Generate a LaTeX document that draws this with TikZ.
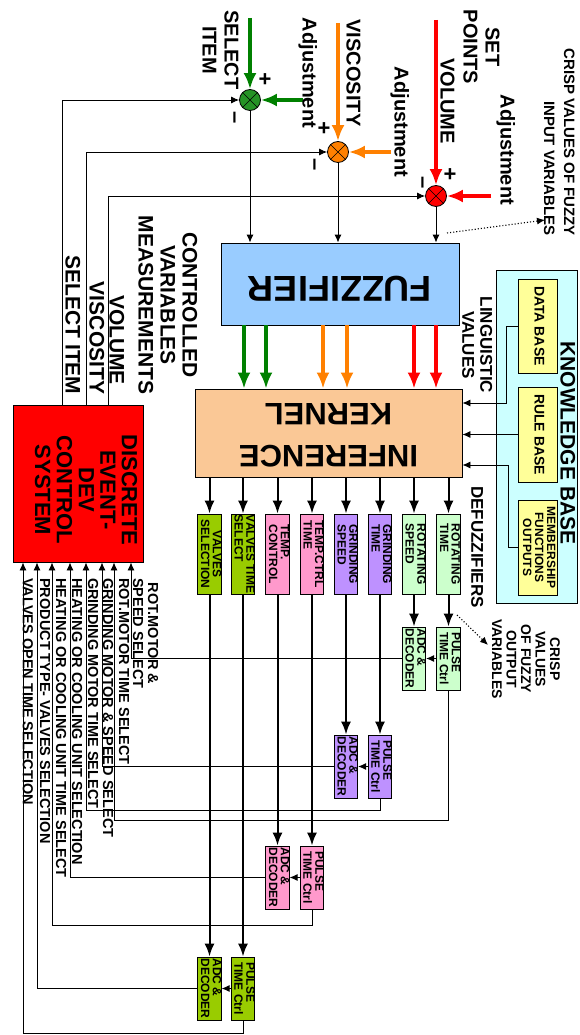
\documentclass[tikz,border=0pt]{standalone}
\usepackage{fontspec}
\setmainfont{Liberation Sans}
\usepackage{graphicx}
\usetikzlibrary{arrows.meta}
\definecolor{fuzzblue}{RGB}{153,204,255}
\definecolor{infpeach}{RGB}{250,200,150}
\definecolor{kbcyan}{RGB}{204,255,255}
\definecolor{kbyellow}{RGB}{255,255,153}
\definecolor{sigred}{RGB}{255,0,0}
\definecolor{sigorange}{RGB}{255,128,0}
\definecolor{siggreen}{RGB}{0,128,0}
\definecolor{valvegreen}{RGB}{153,204,0}
\definecolor{temppink}{RGB}{255,153,204}
\definecolor{grindviolet}{RGB}{190,145,255}
\definecolor{rotgreen}{RGB}{204,255,204}
\newcommand\vlab[2][c]{\rotatebox{-90}{\begin{tabular}{@{}#1@{}}#2\end{tabular}}}
\newcommand\fliptext[1]{\rotatebox{180}{\begin{tabular}{@{}c@{}}#1\end{tabular}}}
\tikzset{
  lab/.style={inner sep=0pt, font=\bfseries\fontsize{20}{22}\selectfont},
  sumnode/.style={circle, draw, thick, minimum size=21pt, inner sep=0pt},
  fb/.style={line width=0.9pt, -{Latex[length=8pt,width=7pt]}},
  sig/.style={line width=3.6pt, -{Latex[length=16pt,width=13pt]}},
  bus/.style={line width=2pt, -{Latex[length=13pt,width=10pt]}},
  dotarr/.style={dotted, line width=1.1pt, -{Latex[length=8pt,width=7pt]}},
  blk/.style={draw, line width=0.9pt, inner sep=0pt},
  unit/.style={blk, minimum width=22pt, minimum height=80pt, font=\bfseries\fontsize{12}{11}\selectfont},
  conv/.style={blk, minimum width=22pt, minimum height=63pt, font=\bfseries\fontsize{12}{11}\selectfont},
  sel/.style={inner sep=0pt, anchor=north west, font=\bfseries\fontsize{14.5}{14}\selectfont}
}
\begin{document}
\begin{tikzpicture}[x=1pt,y=-1pt]
\useasboundingbox (0,0) rectangle (579,1035);

\node[sumnode, fill=siggreen!85!white] (jg) at (250,100) {};
\node[sumnode, fill=sigorange] (jo) at (338,152) {};
\node[sumnode, fill=sigred] (jr) at (436,196) {};
\foreach \j in {jg,jo,jr}
  \draw (\j.north west) -- (\j.south east) (\j.north east) -- (\j.south west);

\coordinate (gitem) at (250,18);
\coordinate (gadj) at (303,100);
\coordinate (oset) at (338,23);
\coordinate (oadj) at (391,152);
\coordinate (rset) at (436,20);
\coordinate (radj) at (491,196);
\draw[sig, siggreen] (gitem) -- (jg);
\draw[sig, siggreen] (gadj) -- (jg);
\draw[sig, sigorange] (oset) -- (jo);
\draw[sig, sigorange] (oadj) -- (jo);
\draw[sig, sigred] (rset) -- (jr);
\draw[sig, sigred] (radj) -- (jr);

\node[lab] (lsel) at (218,50) {\vlab{SELECT\\ITEM}};
\node[lab] (lgadj) at (307,73) {\vlab{Adjustment}};
\node[lab] (lvis) at (351,73) {\vlab{VISCOSITY}};
\node[lab] (loadj) at (399,122) {\vlab{Adjustment}};
\node[lab] (lset) at (479,47) {\vlab{SET\\POINTS}};
\node[lab] (lvol) at (445,101) {\vlab{VOLUME}};
\node[lab] (lradj) at (505,150) {\vlab{Adjustment}};
\node[lab, font=\bfseries\fontsize{22}{22}\selectfont] (pg) at (265,80) {+};
\node[lab, font=\bfseries\fontsize{22}{22}\selectfont] (mg) at (233,118) {\vlab{--}};
\node[lab, font=\bfseries\fontsize{22}{22}\selectfont] (po) at (324,129) {+};
\node[lab, font=\bfseries\fontsize{22}{22}\selectfont] (mo) at (313,165) {\vlab{--}};
\node[lab, font=\bfseries\fontsize{22}{22}\selectfont] (pr) at (450,175) {+};
\node[lab, font=\bfseries\fontsize{22}{22}\selectfont] (mr) at (421,183) {\vlab{--}};
\node[lab, anchor=south, font=\bfseries\fontsize{15}{20}\selectfont] (crispin) at (558,236) {\vlab[r]{CRISP VALUES OF FUZZY\\INPUT VARIABLES}};

\node[blk, fill=fuzzblue, minimum width=238pt, minimum height=82pt, font=\bfseries\fontsize{36}{40}\selectfont] (fuzz) at (340,284) {\fliptext{FUZZIFIER}};
\node[blk, fill=infpeach, minimum width=267pt, minimum height=88pt, font=\bfseries\fontsize{31}{42}\selectfont] (inf) at (328.5,433) {\fliptext{INFERENCE\\KERNEL}};

\coordinate (cin) at (447,233);
\coordinate (cintip) at (545,220);
\draw[dotarr] (cin) -- (cintip);

\foreach \j in {jg,jo,jr}
  \draw[fb] (\j) -- (\j |- fuzz.north);
\foreach \x/\c in {244/siggreen,266/siggreen,323/sigorange,347/sigorange,414/sigred,436/sigred}
  \draw[sig, \c] (fuzz.south -| \x,0) -- (inf.north -| \x,0);

\node[blk, fill=kbcyan, minimum width=81pt, minimum height=333pt] (kb) at (536.5,436.5) {};
\node[lab, font=\bfseries\fontsize{21}{22}\selectfont] (kbt) at (565,443) {\vlab{KNOWLEDGE BASE}};
\node[blk, fill=kbyellow, minimum width=39pt, minimum height=94pt, font=\bfseries\fontsize{14}{15}\selectfont] (db) at (537.5,326) {\vlab{DATA BASE}};
\node[blk, fill=kbyellow, minimum width=39pt, minimum height=95pt, font=\bfseries\fontsize{14}{15}\selectfont] (rb) at (537.5,434.5) {\vlab{RULE BASE}};
\node[blk, fill=kbyellow, minimum width=39pt, minimum height=95pt, font=\bfseries\fontsize{12}{12}\selectfont] (mf) at (537.5,547.5) {\vlab{MEMBERSHIP\\FUNCTIONS\\OUTPUTS}};
\draw[fb] (db.west) -- ++(-11,0) |- ([yshift=30pt]inf.east);
\draw[fb] (rb.west) -- (inf.east |- rb.west);
\draw[fb] (mf.west) -- ++(-9,0) |- ([yshift=-32pt]inf.east);
\node[lab, font=\bfseries\fontsize{17}{18}\selectfont] (ling) at (475,345) {\vlab{LINGUISTIC\\VALUES}};
\node[lab, font=\bfseries\fontsize{17}{18}\selectfont] (defz) at (475,547) {\vlab{DEFUZZIFIERS}};

\node[blk, fill=sigred, minimum width=130pt, minimum height=157pt] (dev) at (78,483.5) {};
\node[lab, font=\bfseries\fontsize{22}{21.5}\selectfont] (devtxt) at (83,490) {\vlab{DISCRETE\\EVENT-\\DEV\\CONTROL\\SYSTEM}};
\draw[fb] (dev.north -| 62,0) |- (jg.west);
\draw[fb] (dev.north -| 86,0) |- (jo.west);
\draw[fb] (dev.north -| 108,0) |- (jr.west);
\node[lab, font=\bfseries\fontsize{21}{22}\selectfont] (msel) at (70,325) {\vlab{SELECT ITEM}};
\node[lab, font=\bfseries\fontsize{21}{22}\selectfont] (mvis) at (94,338) {\vlab{VISCOSITY}};
\node[lab, font=\bfseries\fontsize{21}{22}\selectfont] (mvol) at (114,340) {\vlab{VOLUME}};
\node[lab, font=\bfseries\fontsize{21}{22}\selectfont] (ctrl) at (165,305) {\vlab{CONTROLLED\\VARIABLES\\MEASUREMENTS}};

\node[unit, fill=valvegreen] (vs) at (209.5,554) {\vlab{VALVES\\SELECTION}};
\node[unit, fill=valvegreen] (vt) at (243,554) {\vlab[l]{VALVES TIME\\SELECT}};
\node[unit, fill=temppink] (tc) at (277.5,554) {\vlab[l]{TEMP.\\CONTROL}};
\node[unit, fill=temppink] (tt) at (312,554) {\vlab[l]{TEMP.CTRL\\TIME}};
\node[unit, fill=grindviolet] (gs) at (346,554) {\vlab[l]{GRINDING\\SPEED}};
\node[unit, fill=grindviolet] (gt) at (380,554) {\vlab[l]{GRINDING\\TIME}};
\node[unit, fill=rotgreen] (rs) at (414,554) {\vlab[l]{ROTATING\\SPEED}};
\node[unit, fill=rotgreen] (rt) at (448.5,554) {\vlab[l]{ROTATING\\TIME}};
\foreach \b in {vs,vt,tc,tt,gs,gt,rs,rt}
  \draw[bus] (inf.south -| \b) -- (\b);

\node[conv, fill=rotgreen] (radc) at (414,658.5) {\vlab[l]{ADC \&\\DECODER}};
\node[conv, fill=rotgreen] (rpul) at (448.5,658.5) {\vlab[l]{PULSE\\TIME Ctrl}};
\node[conv, fill=grindviolet] (vadc) at (346,766.5) {\vlab[l]{ADC \&\\DECODER}};
\node[conv, fill=grindviolet] (vpul) at (380,766.5) {\vlab[l]{PULSE\\TIME Ctrl}};
\node[conv, fill=temppink] (padc) at (277.5,877.5) {\vlab[l]{ADC \&\\DECODER}};
\node[conv, fill=temppink] (ppul) at (312,877.5) {\vlab[l]{PULSE\\TIME Ctrl}};
\node[conv, fill=valvegreen] (gadc) at (209.5,988.5) {\vlab[l]{ADC \&\\DECODER}};
\node[conv, fill=valvegreen] (gpul) at (243,988.5) {\vlab[l]{PULSE\\TIME Ctrl}};
\draw[bus] (rs) -- (radc);
\draw[bus] (rt) -- (rpul);
\draw[bus] (gs) -- (vadc);
\draw[bus] (gt) -- (vpul);
\draw[bus] (tc) -- (padc);
\draw[bus] (tt) -- (ppul);
\draw[bus] (vs) -- (gadc);
\draw[bus] (vt) -- (gpul);
\foreach \a/\p in {radc/rpul,vadc/vpul,padc/ppul,gadc/gpul}
  \draw[fb] (\p) -- (\a);

\draw[fb] (radc.west) -| (dev.south -| 131,0);
\draw[fb] (rpul.south) |- (114,820) -- (dev.south -| 114,0);
\draw[fb] (vadc.west) -| (dev.south -| 102,0);
\draw[fb] (vpul.south) |- (86,810) -- (dev.south -| 86,0);
\draw[fb] (padc.west) -| (dev.south -| 70,0);
\draw[fb] (ppul.south) |- (52,925) -- (dev.south -| 52,0);
\draw[fb] (gadc.west) -| (dev.south -| 37,0);
\draw[fb] (gpul.south) |- (23,1033) -- (dev.south -| 23,0);

\node[sel] (o1) at (18.6,578) {\vlab{VALVES OPEN TIME SELECTION}};
\node[sel] (o2) at (35.6,578) {\vlab{PRODUCT TYPE- VALVES SELECTION}};
\node[sel] (o3) at (51.6,578) {\vlab{HEATING OR COOLING UNIT TIME SELECT}};
\node[sel] (o4) at (67.6,578) {\vlab{HEATING OR COOLING UNIT SELECTION}};
\node[sel] (o5) at (83.6,578) {\vlab{GRINDING MOTOR TIME SELECT}};
\node[sel] (o6) at (98.6,578) {\vlab{GRINDING MOTOR \& SPEED SELECT}};
\node[sel] (o7) at (114.6,578) {\vlab{ROT.MOTOR TIME SELECT}};
\node[sel, font=\bfseries\fontsize{14.5}{15}\selectfont] (o8) at (128.3,578) {\vlab{ROT.MOTOR \&\\SPEED SELECT}};

\node[lab, font=\bfseries\fontsize{14}{14.5}\selectfont] (crispout) at (524,659) {\vlab{CRISP\\VALUES\\OF FUZZY\\OUTPUT\\VARIABLES}};
\coordinate (cout) at (457,615);
\coordinate (couttip) at (488,645);
\draw[dotarr] (cout) -- (couttip);
\end{tikzpicture}
\end{document}
